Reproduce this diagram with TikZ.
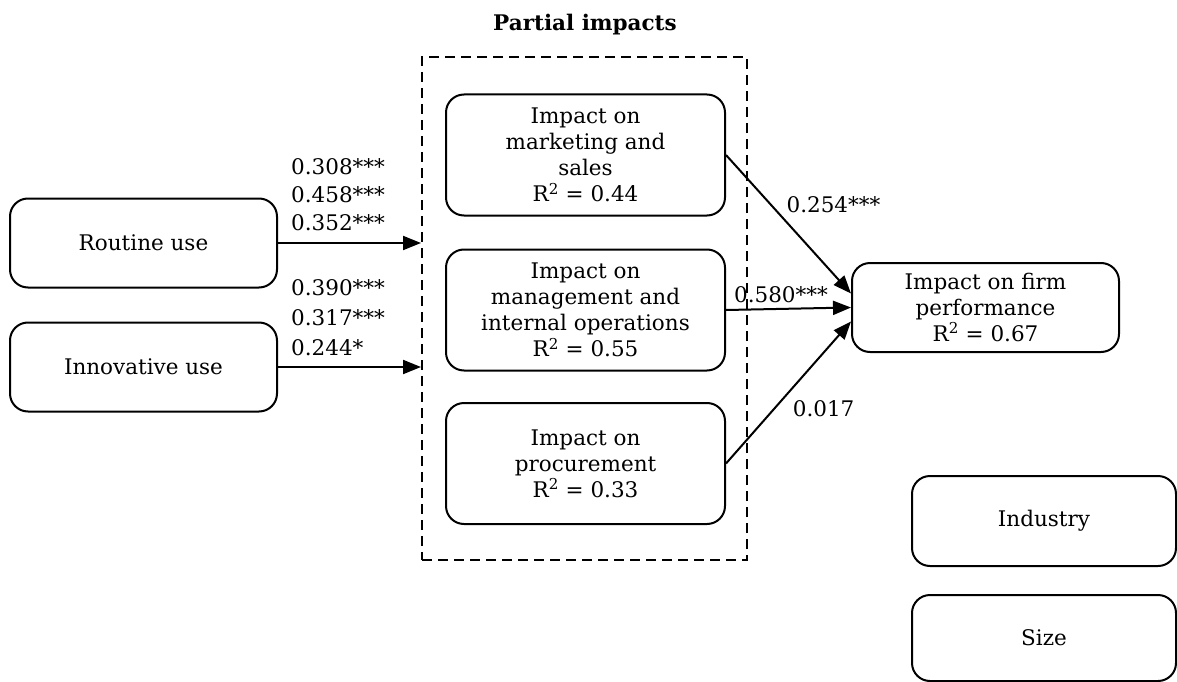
\documentclass[tikz,border=0pt]{standalone}
\usepackage{fontspec}
\setmainfont{DejaVu Serif}
\usetikzlibrary{arrows.meta, positioning, fit, calc}
\tikzstyle{block} = [rectangle, rounded corners=18pt, minimum width=267pt, minimum height=89pt, text centered, align=center, draw=black, line width=2pt]
\tikzstyle{impact} = [block, minimum width=279pt, minimum height=121pt]
\tikzstyle{coef} = [align=left, anchor=west, inner sep=2pt]
\tikzstyle{arrow} = [line width=2pt, ->, >={Triangle[length=18pt,width=14pt]}]

\begin{document}
\begin{tikzpicture}[x=1pt, y=-1pt, font=\fontsize{21.5}{26}\selectfont]
    \useasboundingbox (0,0) rectangle (1177,682);
    % left side: ways of use
    \node (routine) [block] at (143.5,243) {Routine use};
    \node (innov) [block] at (143.5,367) {Innovative use};
    % partial impacts
    \node (partial) [draw, dash pattern=on 10pt off 6pt, line width=2pt, minimum width=325pt, minimum height=503pt] at (584.5,308.5) {};
    \node (title) at (585,25) {\bfseries Partial impacts};
    \node (market) [impact] at (585.5,155) {Impact on\\marketing and\\sales\\R\textsuperscript{2} = 0.44};
    \node (mgmt) [impact] at (585.5,310) {Impact on\\management and\\internal operations\\R\textsuperscript{2} = 0.55};
    \node (procure) [impact] at (585.5,463.5) {Impact on\\procurement\\R\textsuperscript{2} = 0.33};
    % right side
    \node (firm) [block] at (985.5,307.5) {Impact on firm\\performance\\R\textsuperscript{2} = 0.67};
    \node (industry) [block, minimum width=264pt, minimum height=90pt] at (1044,521) {Industry};
    \node (size) [block, minimum width=264pt, minimum height=86pt] at (1044,638) {Size};
    % coefficients
    \node (rcoef) [coef] at (289,195) {0.308***\\[2pt]0.458***\\[2pt]0.352***};
    \node (icoef) [coef] at (289,318) {0.390***\\[4pt]0.317***\\[4pt]0.244*};

    \draw [arrow] (routine.east) -- (routine.east -| partial.west);
    \draw [arrow] (innov.east) -- (innov.east -| partial.west);
    \draw [arrow] (market.east) -- node[pos=0.45, anchor=south west] {0.254***} ($(firm.west)+(0,-14)$);
    \draw [arrow] (mgmt.east) -- node[pos=0.03, anchor=south west, yshift=3pt] {0.580***} (firm.west);
    \draw [arrow] (procure.east) -- node[pos=0.5, anchor=north west, yshift=-4pt] {0.017} ($(firm.west)+(0,14)$);
\end{tikzpicture}
\end{document}
